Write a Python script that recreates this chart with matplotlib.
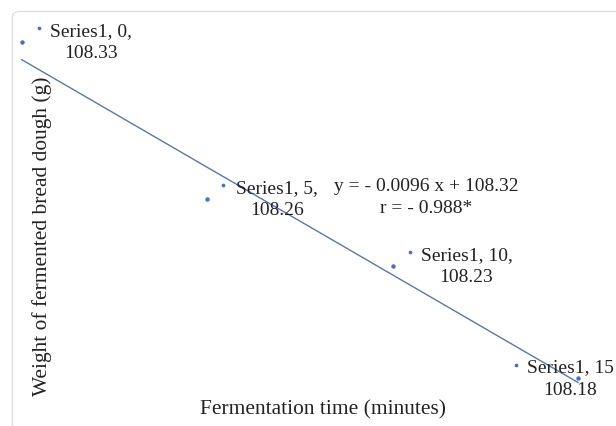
import numpy as np
import matplotlib
matplotlib.use("Agg")
import matplotlib.pyplot as plt
from matplotlib.patches import FancyBboxPatch

# Data: dough weight during fermentation
series_name = "Series1"
time_min = [0, 5, 10, 15]
weight_g = [108.33, 108.26, 108.23, 108.18]
x_label = "Fermentation time (minutes)"
y_label = "Weight of fermented bread dough (g)"

# Linear fit and correlation
slope, intercept = np.polyfit(time_min, weight_g, 1)
r_value = np.corrcoef(time_min, weight_g)[0, 1]

W, H, DPI = 616, 427, 100
plt.rcParams["font.family"] = ["Liberation Serif", "DejaVu Serif"]
fig = plt.figure(figsize=(W / DPI, H / DPI), dpi=DPI)
fig.patch.set_facecolor("white")

# Chart area outline
frame = FancyBboxPatch((12.5 / W, -0.2), 1.2, (H - 12.5) / H + 0.2,
                       boxstyle="round,pad=0,rounding_size=0.012",
                       transform=fig.transFigure, fc="none",
                       ec="#dcdcdc", lw=0.9)
fig.patches.append(frame)

left, right = 21.7 / W, 578 / W
bottom, top = (H - 379) / H, (H - 42.7) / H
ax = fig.add_axes([left, bottom, right - left, top - bottom])
ax.set_xlim(min(time_min), max(time_min))
ax.set_ylim(min(weight_g), max(weight_g))
ax.axis("off")

blue = "#4472C4"
xs = np.array([min(time_min), max(time_min)])
ax.plot(xs, slope * xs + intercept, color="#5677b3", lw=1.0, clip_on=False)
ax.plot(time_min, weight_g, "o", color=blue, ms=3.2, mec="none", clip_on=False)

# Data labels: legend key dot followed by "Series1, x, y"
text_dx = [28, 29, 28, -51]
key_dx = [17.5, 16, 17, -62]
last = len(time_min) - 1
for i, (t, w) in enumerate(zip(time_min, weight_g)):
    sep = "," if i < last else ""
    label = f"{series_name}, {t}{sep}\n{w:.2f}"
    ax.annotate(label, (t, w), xytext=(text_dx[i], 0),
                textcoords="offset pixels", ha="left", va="center",
                multialignment="center", fontsize=14, color="#222222",
                linespacing=1.4, annotation_clip=False)
    disp = ax.transData.transform((t, w))
    fx = (disp[0] + key_dx[i]) / W
    fy = (disp[1] + 13.5) / H
    fig.lines.append(plt.Line2D([fx], [fy], marker="o", ms=2.7, color=blue,
                                mec="none", transform=fig.transFigure))

# Trendline equation and correlation coefficient
sign = "-" if slope < 0 else "+"
r_sign = "-" if r_value < 0 else ""
eq = (f"y = {sign} {abs(slope):.4f} x + {intercept:.2f}\n"
      f"r = {r_sign} {abs(r_value):.3f}*")
fig.text(426 / W, 1 - 197.5 / H, eq, ha="center", va="center",
         multialignment="center", fontsize=14, color="#222222",
         linespacing=1.4)

fig.text(323 / W, 1 - 410 / H, x_label, ha="center", va="center",
         fontsize=15.4, color="#222222")
fig.text(42 / W, 1 - 236 / H, y_label, ha="center", va="center",
         rotation=90, fontsize=15.4, color="#222222")

fig.savefig("out.png", dpi=DPI)
